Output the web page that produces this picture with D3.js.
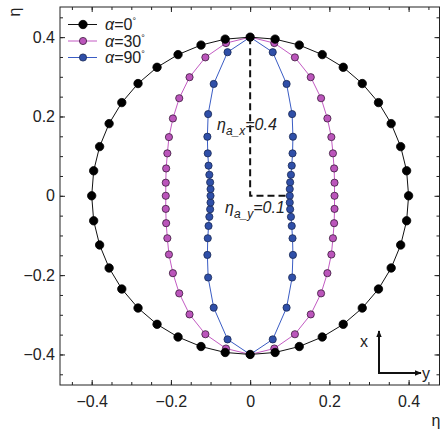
<!DOCTYPE html>
<html>
<head>
<meta charset="utf-8">
<script src="https://cdn.jsdelivr.net/npm/d3@7"></script>
<style>
  body { margin: 0; background: #fff; }
  svg text { font-family: "Liberation Sans", Arial, sans-serif; }
</style>
</head>
<body>
<div id="container"></div>
<script>
// values (eta_x, eta_y), clockwise from the top point
const black_x = [0, .063, .124, .182, .235, .283, .324, .356, .380, .395,
                 .4, .395, .380, .356, .324, .283, .235, .182, .124, .063,
                 0, -.063, -.124, -.182, -.235, -.283, -.324, -.356, -.380, -.395,
                 -.4, -.395, -.380, -.356, -.324, -.283, -.235, -.182, -.124, -.063];
const black_y = [.4, .395, .380, .356, .324, .283, .235, .182, .124, .063,
                 0, -.063, -.124, -.182, -.235, -.283, -.324, -.356, -.380, -.395,
                 -.4, -.395, -.380, -.356, -.324, -.283, -.235, -.182, -.124, -.063,
                 0, .063, .124, .182, .235, .283, .324, .356, .380, .395];

const pink_x = [0, .061, .113, .153, .179, .195, .205, .209, .212, .213,
                .213, .213, .212, .209, .205, .195, .179, .153, .113, .061,
                0, -.061, -.113, -.153, -.179, -.195, -.205, -.209, -.212, -.213,
                -.213, -.213, -.212, -.209, -.205, -.195, -.179, -.153, -.113, -.061];
const pink_y = [.4, .385, .349, .299, .246, .195, .148, .107, .069, .033,
                0, -.033, -.069, -.107, -.148, -.195, -.246, -.299, -.349, -.385,
                -.4, -.385, -.349, -.299, -.246, -.195, -.148, -.107, -.069, -.033,
                0, .033, .069, .107, .148, .195, .246, .299, .349, .385];

const blue_x = [0, .057, .092, .106, .108, .107, .105, .103, .101, .100,
                .100, .100, .101, .103, .105, .107, .108, .106, .092, .057,
                0, -.057, -.092, -.106, -.108, -.107, -.105, -.103, -.101, -.100,
                -.100, -.100, -.101, -.103, -.105, -.107, -.108, -.106, -.092, -.057];
const blue_y = [.4, .362, .282, .206, .149, .107, .076, .053, .034, .017,
                0, -.017, -.034, -.053, -.076, -.107, -.149, -.206, -.282, -.362,
                -.4, -.362, -.282, -.206, -.149, -.107, -.076, -.053, -.034, -.017,
                0, .017, .034, .053, .076, .107, .149, .206, .282, .362];

const series_names = ["0", "30", "90"];
const tick_values = [-0.4, -0.2, 0, 0.2, 0.4];
const ann_x = { label: "a_x", value: "=0.4", at: [0, 0.4] };
const ann_y = { label: "a_y", value: "=0.1", at: [0.1, 0] };

const width = 441, height = 432;
const margin = { left: 60, top: 7, right: 1.5, bottom: 47 };

const svg = d3.select("#container").append("svg")
    .attr("width", width)
    .attr("height", height);

const x = d3.scaleLinear().domain([-0.48, 0.478]).range([margin.left, width - margin.right]);
const y = d3.scaleLinear().domain([-0.477, 0.476]).range([height - margin.bottom, margin.top]);

const minor = d3.range(-0.45, 0.46, 0.05);

// frame
svg.append("rect")
    .attr("x", x.range()[0]).attr("y", y.range()[1])
    .attr("width", x.range()[1] - x.range()[0])
    .attr("height", y.range()[0] - y.range()[1])
    .attr("fill", "none").attr("stroke", "#222").attr("stroke-width", 1);

function drawAxis(gen, tr, size, vals, labels) {
    const g = svg.append("g").attr("transform", tr)
        .call(gen.tickValues(vals).tickSize(size).tickPadding(labels ? (gen === xb ? 11 : 5) : 0)
            .tickFormat(labels ? d => (d === 0 ? "0" : d3.format(".1f")(d)) : ""));
    g.select(".domain").remove();
    g.selectAll("line").attr("stroke", "#222");
    g.selectAll("text").attr("font-size", 16).attr("fill", "#222");
    return g;
}
const xb = d3.axisBottom(x), yl = d3.axisLeft(y);
drawAxis(d3.axisBottom(x), `translate(0,${y.range()[0]})`, -3, minor, false);
drawAxis(xb, `translate(0,${y.range()[0]})`, -5, tick_values, true);
drawAxis(d3.axisTop(x), `translate(0,${y.range()[1]})`, -3, minor, false);
drawAxis(d3.axisTop(x), `translate(0,${y.range()[1]})`, -5, tick_values, false);
drawAxis(d3.axisLeft(y), `translate(${x.range()[0]},0)`, -3, minor, false);
drawAxis(yl, `translate(${x.range()[0]},0)`, -5, tick_values, true);
drawAxis(d3.axisRight(y), `translate(${x.range()[1]},0)`, -3, minor, false);
drawAxis(d3.axisRight(y), `translate(${x.range()[1]},0)`, -5, tick_values, false);

// axis titles
svg.append("text").attr("x", 436).attr("y", 426).attr("text-anchor", "middle")
    .attr("font-size", 16).attr("fill", "#222").text("η");
svg.append("text").attr("transform", "translate(20,12) rotate(-90)").attr("text-anchor", "middle")
    .attr("font-size", 16).attr("fill", "#222").text("η");

// dashed guide
const guide = [[ann_x.at[0], ann_x.at[1]], [0, 0], [ann_y.at[0] - 0.01, ann_y.at[1]]];
svg.append("path")
    .attr("d", d3.line().x(d => x(d[0])).y(d => y(d[1]))(guide))
    .attr("fill", "none").attr("stroke", "#111").attr("stroke-width", 2)
    .attr("stroke-dasharray", "7,4");

const series = [
    { xs: blue_x, ys: blue_y, line: "#3a5cc4", fill: "#2f4fa8", stroke: "#1a2a55", r: 3.6 },
    { xs: pink_x, ys: pink_y, line: "#c35bc3", fill: "#bb55bb", stroke: "#3a1a3a", r: 3.6 },
    { xs: black_x, ys: black_y, line: "#111", fill: "#000", stroke: "#000", r: 4.2 }
];

series.forEach(s => {
    const pts = s.xs.map((v, i) => [v, s.ys[i]]);
    svg.append("path")
        .attr("d", d3.line().x(d => x(d[0])).y(d => y(d[1])).curve(d3.curveLinearClosed)(pts))
        .attr("fill", "none").attr("stroke", s.line).attr("stroke-width", 1);
    svg.append("g").selectAll("circle").data(pts).enter().append("circle")
        .attr("cx", d => x(d[0])).attr("cy", d => y(d[1])).attr("r", s.r)
        .attr("fill", s.fill).attr("stroke", s.stroke).attr("stroke-width", 0.8);
});

// annotations
function annot(a, tx, ty) {
    const t = svg.append("text").attr("x", tx).attr("y", ty).attr("font-size", 16)
        .attr("font-style", "italic").attr("fill", "#222");
    t.append("tspan").text("η");
    t.append("tspan").attr("font-size", 12).attr("dy", 5).text(a.label);
    t.append("tspan").attr("dy", -5).text(a.value);
}
annot(ann_x, 217, 130);
annot(ann_y, 225, 213);

// legend
const legend = svg.append("g");
[2, 1, 0].forEach((si, row) => {
    const s = series[si];
    const ly = 24.5 + row * 16.5;
    legend.append("line").attr("x1", 68).attr("x2", 97).attr("y1", ly).attr("y2", ly)
        .attr("stroke", s.line).attr("stroke-width", 1);
    legend.append("circle").attr("cx", 83).attr("cy", ly).attr("r", s.r)
        .attr("fill", s.fill).attr("stroke", s.stroke).attr("stroke-width", 0.8);
    const t = legend.append("text").attr("x", 105).attr("y", ly + 5.5).attr("font-size", 16).attr("fill", "#222");
    t.append("tspan").attr("font-style", "italic").text("α");
    t.append("tspan").text("=" + series_names[row]);
    t.append("tspan").attr("font-size", 9).attr("dy", -6).text("°");
});

// x / y direction arrows
const defs = svg.append("defs");
defs.append("marker").attr("id", "ah").attr("viewBox", "0 0 10 10").attr("refX", 9).attr("refY", 5)
    .attr("markerWidth", 7).attr("markerHeight", 7).attr("markerUnits", "userSpaceOnUse")
    .attr("orient", "auto")
    .append("path").attr("d", "M0,1 L10,5 L0,9 Z").attr("fill", "#111");
svg.append("path").attr("d", "M379,373 L379,331").attr("stroke", "#111").attr("stroke-width", 2)
    .attr("marker-end", "url(#ah)");
svg.append("path").attr("d", "M378,373 L421,373").attr("stroke", "#111").attr("stroke-width", 2)
    .attr("marker-end", "url(#ah)");
svg.append("text").attr("x", 360).attr("y", 347).attr("font-size", 16).attr("fill", "#222").text("x");
svg.append("text").attr("x", 422).attr("y", 379).attr("font-size", 16).attr("fill", "#222").text("y");
</script>
</body>
</html>
